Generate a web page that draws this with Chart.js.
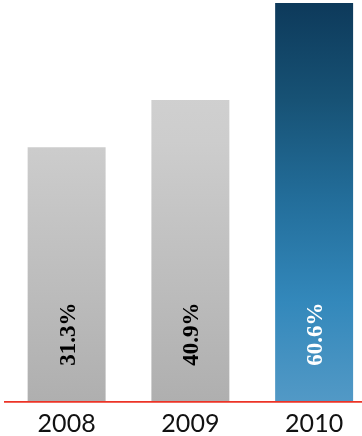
<!DOCTYPE html>
<html>
<head>
<meta charset="utf-8">
<script src="https://cdn.jsdelivr.net/npm/chart.js@4"></script>
<style>
  html, body { margin: 0; padding: 0; background: #fff; overflow: hidden; }
  #wrap { width: 362px; height: 436px; overflow: hidden; }
</style>
</head>
<body>
<div id="wrap"><canvas id="shareChart" width="376" height="446"></canvas></div>
<script>
/*------------------------------Share by year------------------------------------*/
const years = ["2008", "2009", "2010"];
const shares = [31.3, 40.9, 60.6];
const axisMin = -20.4;
const axisMax = 61.2;

// gray for past years, blue for the latest one
function barFill(context) {
  const chart = context.chart;
  const area = chart.chartArea;
  if (!area) return '#c4c4c4';
  const c = chart.ctx;
  const g = c.createLinearGradient(0, area.top, 0, area.bottom);
  if (context.dataIndex === shares.length - 1) {
    g.addColorStop(0, '#0d395a');
    g.addColorStop(0.25, '#175275');
    g.addColorStop(0.5, '#236e9b');
    g.addColorStop(0.75, '#3388bb');
    g.addColorStop(1, '#5299c6');
  } else {
    g.addColorStop(0, '#d6d6d6');
    g.addColorStop(0.35, '#cdcdcd');
    g.addColorStop(1, '#afafaf');
  }
  return g;
}

// percentage written upwards inside each bar
const valueLabels = {
  id: 'valueLabels',
  afterDatasetsDraw(chart) {
    const c = chart.ctx;
    const meta = chart.getDatasetMeta(0);
    c.save();
    c.font = 'bold 23px "Liberation Serif", "Times New Roman", serif';
    c.textAlign = 'center';
    c.textBaseline = 'middle';
    meta.data.forEach((bar, i) => {
      c.save();
      c.translate(bar.x + 2, bar.base - 68);
      c.rotate(-Math.PI / 2);
      c.fillStyle = i === shares.length - 1 ? '#ffffff' : '#000000';
      c.fillText(shares[i].toFixed(1) + '%', 0, 0);
      c.restore();
    });
    c.restore();
  }
};

const ctx = document.getElementById('shareChart').getContext('2d');
let shareChart = new Chart(ctx, {
    type: 'bar',
    data: {
        labels: years,
        datasets: [
          {
            label: "Share",
            data: shares,
            base: axisMin,
            backgroundColor: barFill,
            borderWidth: 0,
            barPercentage: 0.63,
            categoryPercentage: 1.0
          }
        ]
    },
    options: {
        responsive: false,
        animation: false,
        devicePixelRatio: 1,
        layout: { padding: { left: 4.75, right: 0, top: 0, bottom: 0 } },
        plugins: {
            legend: { display: false },
            tooltip: { enabled: false }
        },
        scales: {
            x: {
                grid: { display: false, drawTicks: false },
                border: { display: true, color: '#ec3326', width: 1.8, z: 1 },
                ticks: {
                    color: '#111111',
                    padding: 7,
                    font: { family: 'Lato, "Open Sans", sans-serif', size: 25 }
                }
            },
            y: {
                display: false,
                min: axisMin,
                max: axisMax
            }
        }
    },
    plugins: [valueLabels]
});
</script>
</body>
</html>
